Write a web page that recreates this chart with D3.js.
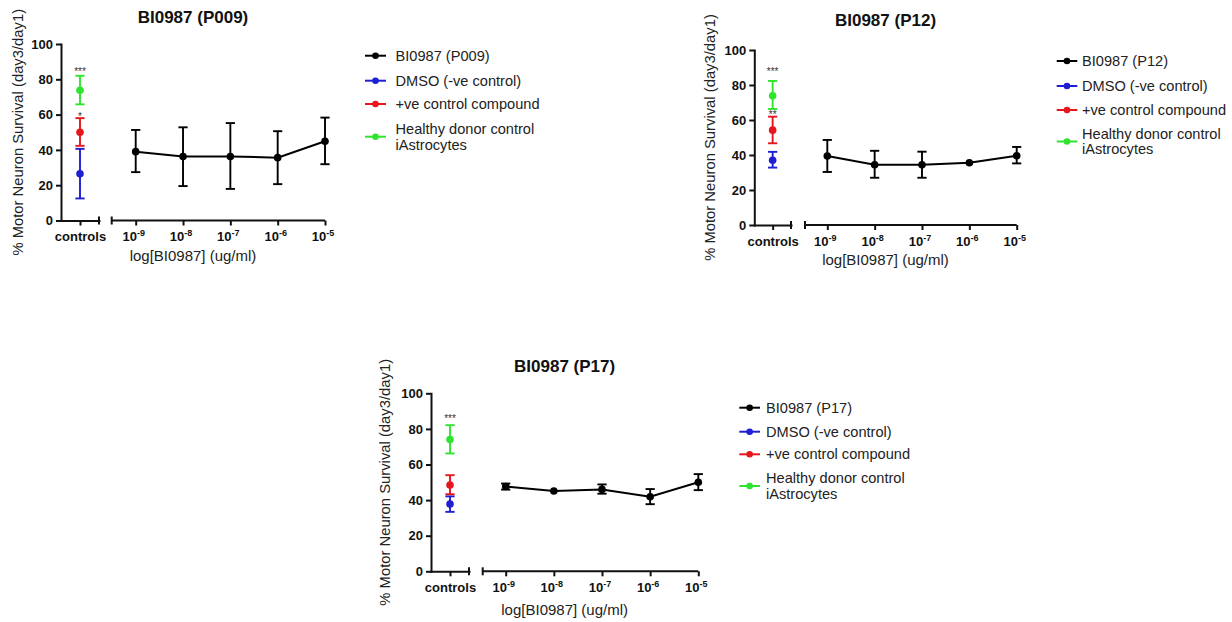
<!DOCTYPE html>
<html>
<head>
<meta charset="utf-8">
<script src="https://cdn.jsdelivr.net/npm/d3@7"></script>
<style>
  body { margin: 0; background: #fff; }
  svg { display: block; }
  text { font-family: "Liberation Sans", Arial, sans-serif; }
</style>
</head>
<body>
<svg id="chart" width="1232" height="622"></svg>
<script>
// ---- shared categories and labels ----
const doseExponents = [-9, -8, -7, -6, -5];
const controlCategory = ["controls"];
const controlNames = ["DMSO (-ve control)", "+ve control compound", "Healthy donor control\niAstrocytes"];
const controlColors = ["#1e1ed2", "#e5171c", "#2fe42f"];
const yTicks = [0, 20, 40, 60, 80, 100];
const xAxisTitle = "log[BI0987] (ug/ml)";
const yAxisTitle = "% Motor Neuron Survival (day3/day1)";

// ---- BI0987 (P009) ----
const p009Mean = [39.0, 36.2, 36.3, 35.6, 44.9];
const p009Lo   = [27.4, 19.5, 17.9, 20.6, 31.9];
const p009Hi   = [51.3, 52.8, 55.2, 50.6, 58.3];
const p009CtrlMean = [26.5, 50.0, 73.8];
const p009CtrlLo   = [12.5, 42.3, 65.8];
const p009CtrlHi   = [40.6, 58.0, 82.0];
const p009Stars    = ["", "*", "***"];

// ---- BI0987 (P12) ----
const p12Mean = [39.4, 34.4, 34.4, 35.6, 39.6];
const p12Lo   = [30.3, 27.0, 27.0, 35.4, 35.2];
const p12Hi   = [48.6, 42.4, 41.9, 35.8, 44.6];
const p12CtrlMean = [37.0, 54.2, 73.8];
const p12CtrlLo   = [32.8, 46.7, 66.3];
const p12CtrlHi   = [41.8, 61.9, 82.3];
const p12Stars    = ["", "**", "***"];

// ---- BI0987 (P17) ----
const p17Mean = [47.6, 45.1, 46.0, 41.9, 50.0];
const p17Lo   = [45.9, 44.8, 43.6, 37.7, 45.6];
const p17Hi   = [49.3, 45.4, 48.8, 46.2, 54.6];
const p17CtrlMean = [37.8, 48.5, 74.0];
const p17CtrlLo   = [33.4, 43.3, 66.2];
const p17CtrlHi   = [42.1, 54.0, 82.1];
const p17Stars    = ["", "", "***"];

const panels = [
  {
    title: "BI0987 (P009)", mean: p009Mean, lo: p009Lo, hi: p009Hi,
    ctrlMean: p009CtrlMean, ctrlLo: p009CtrlLo, ctrlHi: p009CtrlHi, stars: p009Stars,
    box: { x0: 61, ctrlEnd: 99, breakStart: 111.7, doseStart: 135.7, doseEnd: 325,
           y0: 220.5, y100: 44, titleY: 23.3, yLabelX: 18.3, xLabelY: 256,
           legLine: [365, 386], legText: 395.5, legRows: [55.7, 80.7, 104, 136.7],
           starGap: [0, 2, 4] }
  },
  {
    title: "BI0987 (P12)", mean: p12Mean, lo: p12Lo, hi: p12Hi,
    ctrlMean: p12CtrlMean, ctrlLo: p12CtrlLo, ctrlHi: p12CtrlHi, stars: p12Stars,
    box: { x0: 754.3, ctrlEnd: 791, breakStart: 805, doseStart: 827.3, doseEnd: 1016.7,
           y0: 225, y100: 50, titleY: 26, yLabelX: 710, xLabelY: 260,
           legLine: [1056.7, 1077.3], legText: 1082, legRows: [61, 86, 110, 141.5],
           starGap: [0, 2.5, 9] }
  },
  {
    title: "BI0987 (P17)", mean: p17Mean, lo: p17Lo, hi: p17Hi,
    ctrlMean: p17CtrlMean, ctrlLo: p17CtrlLo, ctrlHi: p17CtrlHi, stars: p17Stars,
    box: { x0: 431, ctrlEnd: 469, breakStart: 482.7, doseStart: 505.7, doseEnd: 698.3,
           y0: 571.3, y100: 393.3, titleY: 371.7, yLabelX: 385, xLabelY: 610,
           legLine: [739.3, 760], legText: 766, legRows: [407.7, 431.7, 454.3, 486],
           starGap: [0, 2, 6.5] }
  }
];

const svg = d3.select("#chart");
const AXIS_W = 2;
const DOT_R = 3.8;
const CAP = 4.6;

function styleAxis(g) {
  g.select(".domain").attr("stroke", "#111").attr("stroke-width", AXIS_W).attr("stroke-linecap", "square");
  g.selectAll(".tick line").attr("stroke", "#111").attr("stroke-width", AXIS_W);
  g.selectAll(".tick text")
    .attr("fill", "#111")
    .style("font-size", "13px")
    .style("font-weight", "bold");
}

function errorBar(g, x, yScale, lo, hi, color) {
  const yLo = yScale(lo), yHi = yScale(hi);
  if (Math.abs(yLo - yHi) < 3) return; // hidden behind the symbol
  const eb = g.append("g").attr("stroke", color).attr("stroke-width", 1.9).attr("fill", "none");
  eb.append("line").attr("x1", x).attr("x2", x).attr("y1", yLo).attr("y2", yHi);
  eb.append("line").attr("x1", x - CAP).attr("x2", x + CAP).attr("y1", yLo).attr("y2", yLo);
  eb.append("line").attr("x1", x - CAP).attr("x2", x + CAP).attr("y1", yHi).attr("y2", yHi);
}

function drawPanel(p) {
  const b = p.box;
  const g = svg.append("g");

  const y = d3.scaleLinear().domain([0, 100]).range([b.y0, b.y100]);
  const xCtrl = d3.scalePoint().domain(controlCategory).range([b.x0, b.ctrlEnd]).padding(0.5);
  const xDose = d3.scaleLinear().domain([doseExponents[0], doseExponents[doseExponents.length - 1]])
    .range([b.doseStart, b.doseEnd]);

  // y axis
  const ya = g.append("g").attr("transform", `translate(${b.x0},0)`)
    .call(d3.axisLeft(y).tickValues(yTicks).tickSize(5).tickSizeOuter(0).tickPadding(3));
  styleAxis(ya);

  // controls segment of the x axis
  const xa1 = g.append("g").attr("transform", `translate(0,${b.y0})`)
    .call(d3.axisBottom(xCtrl).tickSize(5).tickSizeOuter(0).tickPadding(6.5));
  styleAxis(xa1);

  // concentration segment of the x axis
  const xa2 = g.append("g").attr("transform", `translate(0,${b.y0})`)
    .call(d3.axisBottom(xDose).tickValues(doseExponents).tickSize(5).tickSizeOuter(0).tickPadding(6.5)
      .tickFormat(() => ""));
  styleAxis(xa2);
  xa2.select(".domain").attr("d", `M${b.breakStart},0H${b.doseEnd}`).attr("stroke-linecap", "butt");
  xa2.selectAll(".tick text").each(function (d) {
    const t = d3.select(this).attr("dx", "-2.5");
    t.append("tspan").text("10");
    t.append("tspan").text(String(d)).style("font-size", "9px").attr("dy", "-5");
  });

  // axis break markers
  [b.ctrlEnd, b.breakStart].forEach(bx => {
    g.append("line").attr("x1", bx).attr("x2", bx).attr("y1", b.y0 - 4).attr("y2", b.y0 + 4)
      .attr("stroke", "#111").attr("stroke-width", AXIS_W);
  });

  // titles
  const cx = (b.x0 + b.doseEnd) / 2;
  g.append("text").attr("x", cx).attr("y", b.titleY).attr("text-anchor", "middle")
    .style("font-size", "17px").style("font-weight", "bold").attr("fill", "#111").text(p.title);
  g.append("text").attr("x", cx).attr("y", b.xLabelY).attr("dy", "0.35em")
    .attr("text-anchor", "middle").style("font-size", "15px").attr("fill", "#222").text(xAxisTitle);
  g.append("text")
    .attr("transform", `translate(${b.yLabelX},${(b.y0 + b.y100) / 2}) rotate(-90)`)
    .attr("dy", "0.35em").attr("text-anchor", "middle")
    .style("font-size", "14.8px").attr("fill", "#222").text(yAxisTitle);

  // control groups (all at the single "controls" position)
  const xc = xCtrl("controls");
  p.ctrlMean.forEach((m, i) => {
    errorBar(g, xc, y, p.ctrlLo[i], p.ctrlHi[i], controlColors[i]);
  });
  p.ctrlMean.forEach((m, i) => {
    g.append("circle").attr("cx", xc).attr("cy", y(m)).attr("r", DOT_R).attr("fill", controlColors[i]);
    if (p.stars[i]) {
      g.append("text").attr("x", xc).attr("y", y(p.ctrlHi[i]) - p.box.starGap[i] + 3.5)
        .attr("text-anchor", "middle").style("font-size", "10px").attr("fill", "#333")
        .text(p.stars[i]);
    }
  });

  // concentration series
  const line = d3.line().x((d, i) => xDose(doseExponents[i])).y(d => y(d));
  g.append("path").datum(p.mean).attr("d", line)
    .attr("fill", "none").attr("stroke", "#000").attr("stroke-width", 2);
  p.mean.forEach((m, i) => {
    errorBar(g, xDose(doseExponents[i]), y, p.lo[i], p.hi[i], "#000");
  });
  g.selectAll(null).data(p.mean).join("circle")
    .attr("cx", (d, i) => xDose(doseExponents[i])).attr("cy", d => y(d))
    .attr("r", DOT_R).attr("fill", "#000");

  // legend
  const names = [p.title, ...controlNames];
  const colors = ["#000", ...controlColors];
  names.forEach((name, i) => {
    const ry = b.legRows[i];
    const lg = g.append("g");
    lg.append("line").attr("x1", b.legLine[0]).attr("x2", b.legLine[1]).attr("y1", ry).attr("y2", ry)
      .attr("stroke", colors[i]).attr("stroke-width", 2);
    lg.append("circle").attr("cx", (b.legLine[0] + b.legLine[1]) / 2).attr("cy", ry).attr("r", 3.3)
      .attr("fill", colors[i]);
    const lines = name.split("\n");
    const t = lg.append("text").attr("x", b.legText).attr("y", ry).style("font-size", "14.6px").attr("fill", "#222");
    lines.forEach((ln, k) => {
      const off = (k - (lines.length - 1) / 2) * 15.7;
      t.append("tspan").attr("x", b.legText).attr("y", ry + off).attr("dy", "0.35em").text(ln);
    });
  });
}

panels.forEach(drawPanel);
</script>
</body>
</html>
